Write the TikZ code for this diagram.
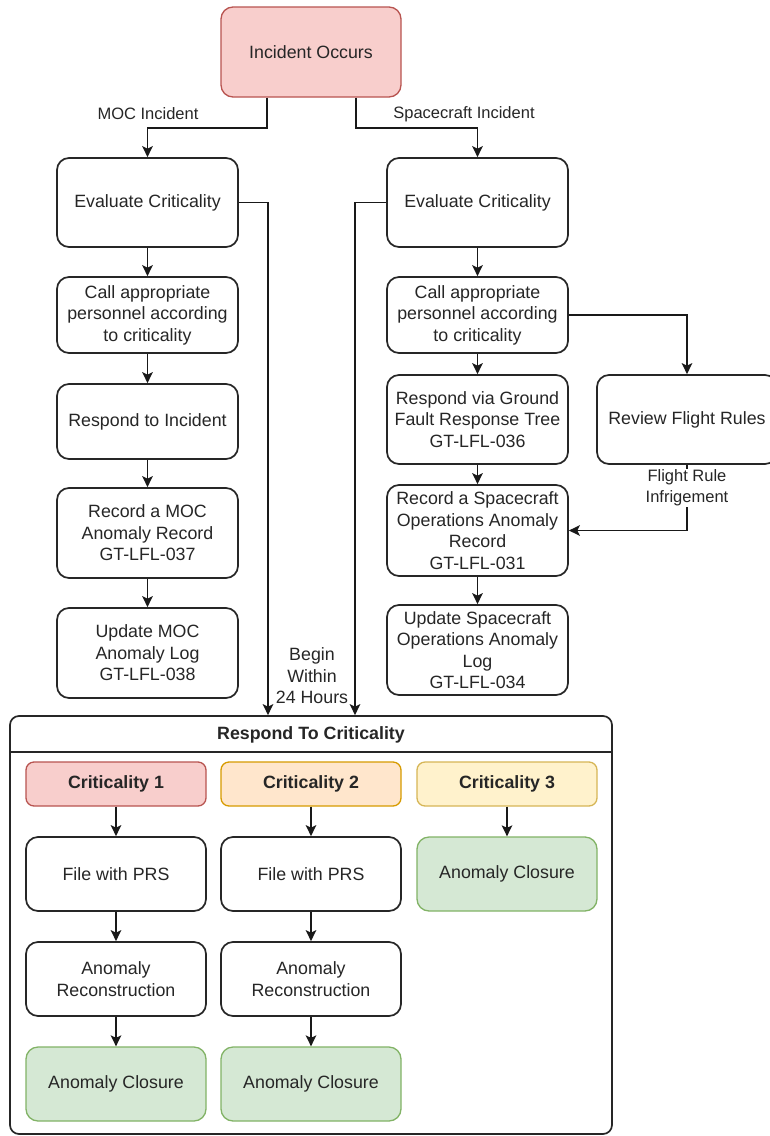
\documentclass[tikz,border=0pt]{standalone}
\usepackage{fontspec}
\setmainfont{Liberation Sans}
\usetikzlibrary{arrows.meta}
\definecolor{redF}{HTML}{F8CECC}\definecolor{redS}{HTML}{B85450}
\definecolor{orgF}{HTML}{FFE6CC}\definecolor{orgS}{HTML}{D79B00}
\definecolor{yelF}{HTML}{FFF2CC}\definecolor{yelS}{HTML}{D6B656}
\definecolor{grnF}{HTML}{D5E8D4}\definecolor{grnS}{HTML}{82B366}
\definecolor{txt}{HTML}{262626}
\begin{document}
\begin{tikzpicture}[x=1pt,y=-1pt,
  every node/.style={text=txt},
  box/.style={draw=black!85, line width=1.7pt, rounded corners=12pt, fill=white,
    minimum width=181pt, inner sep=0pt, align=center,
    font=\fontsize{17.8}{21.5}\selectfont},
  cbox/.style={box, minimum width=180pt, minimum height=74pt},
  hbox/.style={box, minimum width=180pt, minimum height=44pt, line width=1.3pt,
    rounded corners=8pt, font=\fontsize{17.8}{21.5}\selectfont\bfseries},
  lbl/.style={fill=white, inner sep=1pt, align=center,
    font=\fontsize{16.5}{21}\selectfont},
  arr/.style={draw=black!90, line width=1.7pt, -{Stealth[length=11pt,width=10.5pt,inset=2.5pt]}},
]
\useasboundingbox (0,0) rectangle (769,1136);
\fill[white] (0,0) rectangle (769,1136);

% top
\node[box, minimum width=180pt, minimum height=90pt, fill=redF, draw=redS, line width=1.3pt] (inc) at (311,52) {Incident Occurs};

% left column
\node[box, minimum height=89pt] (evL) at (147.5,202.5) {Evaluate Criticality};
\node[box, minimum height=76pt] (callL) at (147.5,315) {Call appropriate\\personnel according\\to criticality};
\node[box, minimum height=75pt] (respL) at (147.5,421.5) {Respond to Incident};
\node[box, minimum height=90pt] (recL) at (147.5,533) {Record a MOC\\Anomaly Record\\GT-LFL-037};
\node[box, minimum height=90pt] (updL) at (147.5,653) {Update MOC\\Anomaly Log\\GT-LFL-038};

% right column
\node[box, minimum height=89pt] (evR) at (477.5,202.5) {Evaluate Criticality};
\node[box, minimum height=76pt] (callR) at (477.5,315) {Call appropriate\\personnel according\\to criticality};
\node[box, minimum height=89pt] (respR) at (477.5,419.5) {Respond via Ground\\Fault Response Tree\\GT-LFL-036};
\node[box, minimum height=91pt] (recR) at (477.5,530.5) {Record a Spacecraft\\Operations Anomaly\\Record\\GT-LFL-031};
\node[box, minimum height=90pt] (updR) at (477.5,650) {Update Spacecraft\\Operations Anomaly\\Log\\GT-LFL-034};
\node[box, minimum width=180pt, minimum height=89pt] (rev) at (687,419.5) {Review Flight Rules};

% container
\node[draw=black!85, line width=1.7pt, rounded corners=9pt, minimum width=602pt, minimum height=418pt, inner sep=0pt] (cont) at (311,925) {};
\draw[draw=black!85, line width=1.7pt] (cont.west |- 0,752) -- (cont.east |- 0,752);
\node[font=\fontsize{17.8}{21.5}\selectfont\bfseries] (title) at (311,735) {Respond To Criticality};

\node[hbox, fill=redF, draw=redS] (c1) at (116,784) {Criticality 1};
\node[hbox, fill=orgF, draw=orgS] (c2) at (311,784) {Criticality 2};
\node[hbox, fill=yelF, draw=yelS] (c3) at (507,784) {Criticality 3};
\node[cbox] (f1) at (116,874) {File with PRS};
\node[cbox] (f2) at (311,874) {File with PRS};
\node[cbox, fill=grnF, draw=grnS, line width=1.3pt] (a3) at (507,874) {Anomaly Closure};
\node[cbox] (r1) at (116,979) {Anomaly\\Reconstruction};
\node[cbox] (r2) at (311,979) {Anomaly\\Reconstruction};
\node[cbox, fill=grnF, draw=grnS, line width=1.3pt] (a1) at (116,1084) {Anomaly Closure};
\node[cbox, fill=grnF, draw=grnS, line width=1.3pt] (a2) at (311,1084) {Anomaly Closure};

% connectors
\draw[arr] ([xshift=-44pt]inc.south) -- ++(0,30) -| (evL.north);
\draw[arr] ([xshift=45pt]inc.south) -- ++(0,30) -| (evR.north);
\node[lbl] (lmoc) at (148,114) {MOC Incident};
\node[lbl] (lsc) at (464,114) {Spacecraft Incident};

\draw[arr] (evL) -- (callL);
\draw[arr] (callL) -- (respL);
\draw[arr] (respL) -- (recL);
\draw[arr] (recL) -- (updL);

\draw[arr] (evR) -- (callR);
\draw[arr] (callR) -- (respR);
\draw[arr] (respR) -- (recR);
\draw[arr] (recR) -- (updR);

\draw[arr] (callR.east) -| (rev.north);
\draw[arr] (rev.south) |- (recR.east);
\node[lbl] (lfr) at (687,488) {Flight Rule\\Infrigement};

\draw[arr] (evL.east) -| ([xshift=-43pt]cont.north);
\draw[arr] (evR.west) -| ([xshift=44pt]cont.north);
\node[align=center, font=\fontsize{17.8}{21.5}\selectfont] (lbeg) at (312,676) {Begin\\Within\\24 Hours};

\draw[arr] (c1) -- (f1);
\draw[arr] (f1) -- (r1);
\draw[arr] (r1) -- (a1);
\draw[arr] (c2) -- (f2);
\draw[arr] (f2) -- (r2);
\draw[arr] (r2) -- (a2);
\draw[arr] (c3) -- (a3);
\end{tikzpicture}
\end{document}
